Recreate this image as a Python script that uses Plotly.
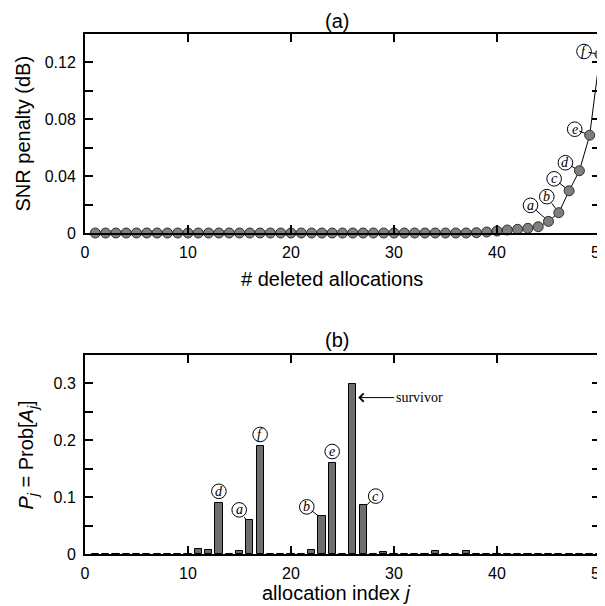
import plotly.graph_objects as go

# ---------------- data ----------------
deleted = list(range(1, 51))
penalty = [0.0] * 37 + [0.0002, 0.0007, 0.0014, 0.0021, 0.0026, 0.0033, 0.0044,
                        0.0082, 0.0143, 0.0297, 0.0438, 0.0688, 0.1256]

alloc_index = list(range(1, 51))
prob = [0.0008, 0.0008, 0.0008, 0.0008, 0.0008, 0.0008, 0.0008, 0.0008, 0.0008, 0.0008,   # 1-10
        0.009, 0.007, 0.090, 0.0, 0.006, 0.060, 0.190, 0.0, 0.0008, 0.0,               # 11-20
        0.0, 0.007, 0.067, 0.160, 0.0, 0.299, 0.086, 0.0, 0.003, 0.0008,                # 21-30
        0.0008, 0.0008, 0.0008, 0.006, 0.0008, 0.0008, 0.005, 0.0008, 0.0008, 0.0008,  # 31-40
        0.0008, 0.0008, 0.0008, 0.0008, 0.0008, 0.0008, 0.0008, 0.0008, 0.0008, 0.0008] # 41-50

x_ticks = [0, 10, 20, 30, 40, 50]
y1_ticks = [0, 0.04, 0.08, 0.12]
y1_ticktext = ["0", "0.04", "0.08", "0.12"]
y1_minor = [0.02, 0.06, 0.10]
y2_ticks = [0, 0.1, 0.2, 0.3]
y2_ticktext = ["0", "0.1", "0.2", "0.3"]
y2_minor = [0.05, 0.15, 0.25]

# labels on the top curve: letter -> deletion count
top_labels = [("a", 45), ("b", 46), ("c", 47), ("d", 48), ("e", 49), ("f", 50)]
# labels on the bars: letter -> allocation index
bar_labels = [("d", 13), ("a", 16), ("f", 17), ("b", 23), ("e", 24), ("c", 27)]
survivor_index = 26

# ---------------- figure ----------------
FONT = "Liberation Sans, Arial, sans-serif"
SERIF = "Liberation Serif, Times New Roman, serif"
BAR_W = 0.7

fig = go.Figure()
fig.add_trace(go.Scatter(
    x=deleted, y=penalty, mode="lines+markers",
    line=dict(color="black", width=1),
    marker=dict(size=10, color="#7f7f7f", line=dict(color="#303030", width=1)),
    cliponaxis=False, xaxis="x", yaxis="y", showlegend=False))
fig.add_trace(go.Bar(
    x=alloc_index, y=prob, width=BAR_W,
    marker=dict(color="#6e6e6e", line=dict(color="black", width=1)),
    xaxis="x2", yaxis="y2", showlegend=False))

top_dom = [0.6173, 1.0]
bot_dom = [0.0, 0.3827]

axis_common = dict(showline=True, linewidth=2, linecolor="black", mirror="ticks",
                   ticks="inside", ticklen=8, tickwidth=2, tickcolor="black",
                   showgrid=False, zeroline=False, automargin=False,
                   ticklabeloverflow="allow",
                   tickfont=dict(size=16, family=FONT, color="black"))

# the page body has an 8px margin, so the figure is 597x598 drawn at (8, 8)
fig.update_layout(
    width=597, height=598,
    margin=dict(l=77, r=5, t=26, b=52, autoexpand=False),
    paper_bgcolor="white", plot_bgcolor="white",
    font=dict(family=FONT, color="black"),
    showlegend=False,
    bargap=0,
    xaxis=dict(domain=[0, 1], anchor="y", range=[0, 50], tickvals=x_ticks,
               ticklabelstandoff=4, **axis_common),
    yaxis=dict(domain=top_dom, anchor="x", range=[0, 0.14], tickvals=y1_ticks, ticktext=y1_ticktext,
               ticklabelstandoff=4,
               minor=dict(tickvals=y1_minor, ticks="inside", ticklen=8, tickwidth=2, tickcolor="black"),
               **axis_common),
    xaxis2=dict(domain=[0, 1], anchor="y2", range=[0, 50], tickvals=x_ticks,
                ticklabelstandoff=4, **axis_common),
    yaxis2=dict(domain=bot_dom, anchor="x2", range=[0, 0.35], tickvals=y2_ticks, ticktext=y2_ticktext,
                ticklabelstandoff=4,
                minor=dict(tickvals=y2_minor, ticks="inside", ticklen=8, tickwidth=2, tickcolor="black"),
                **axis_common),
)

shapes = []
annotations = []
R = 7.3


def add_label(xref, yref, x, y, dx, dy, letter, leader=True, standoff=0):
    shapes.append(dict(type="circle", xref=xref, yref=yref, xsizemode="pixel", ysizemode="pixel",
                       xanchor=x, yanchor=y, x0=dx - R, x1=dx + R, y0=-dy - R, y1=-dy + R,
                       line=dict(color="black", width=1), fillcolor="white", layer="above"))
    if leader:
        annotations.append(dict(xref=xref, yref=yref, x=x, y=y, ax=dx, ay=dy,
                                xanchor="center", yanchor="middle",
                                text=f"<i>{letter}</i>", showarrow=True, arrowhead=0,
                                arrowwidth=1, arrowcolor="black", standoff=standoff,
                                font=dict(family=SERIF, size=14, color="black")))
    else:
        annotations.append(dict(xref=xref, yref=yref, x=x, y=y, xshift=dx, yshift=-dy,
                                xanchor="center", yanchor="middle",
                                text=f"<i>{letter}</i>", showarrow=False,
                                font=dict(family=SERIF, size=14, color="black")))


top_offsets = {"a": (-18, -16), "b": (-12, -16), "c": (-15, -12),
               "d": (-14, -8), "e": (-15, -6), "f": (-16, -3)}
for letter, n in top_labels:
    dx, dy = top_offsets[letter]
    add_label("x", "y", n, penalty[n - 1], dx, dy, letter, leader=True, standoff=5)

for letter, j in bar_labels:
    v = prob[j - 1]
    if letter in ("d", "f", "e"):
        add_label("x2", "y2", j, v, 0, -11.5, letter, leader=False)
    elif letter in ("a", "b"):
        off = {"a": (-7, -10), "b": (-11.5, -9)}[letter]
        add_label("x2", "y2", j - BAR_W / 2, v, off[0], off[1], letter, leader=True)
    else:
        add_label("x2", "y2", j + BAR_W / 2, v, 9, -9, letter, leader=True)

# survivor arrow
annotations.append(dict(xref="x2", yref="y2", x=survivor_index + 0.53, y=prob[survivor_index - 1] * 0.92,
                        ax=36, ay=0, xanchor="left", yanchor="middle", text="survivor", showarrow=True,
                        arrowhead=4, arrowsize=1.6, arrowwidth=1, arrowcolor="black",
                        font=dict(family=SERIF, size=14, color="black")))

title_font = dict(size=20, family=FONT, color="black")
# panel titles
annotations.append(dict(xref="paper", yref="paper", x=0.49, y=top_dom[1], yshift=13,
                        xanchor="center", yanchor="middle",
                        text="(a)", showarrow=False, font=title_font))
annotations.append(dict(xref="paper", yref="paper", x=0.49, y=bot_dom[1], yshift=15,
                        xanchor="center", yanchor="middle",
                        text="(b)", showarrow=False, font=title_font))
# axis titles
annotations.append(dict(xref="paper", yref="paper", x=0.4796, y=top_dom[0], yshift=-46,
                        xanchor="center", yanchor="middle",
                        text="# deleted allocations", showarrow=False, font=title_font))
annotations.append(dict(xref="paper", yref="paper", x=0.487, y=bot_dom[0], yshift=-39,
                        xanchor="center", yanchor="middle",
                        text="allocation index <i>j</i>", showarrow=False, font=title_font))
annotations.append(dict(xref="paper", yref="paper", x=-0.1223, y=(top_dom[0] + top_dom[1]) / 2,
                        xanchor="center", yanchor="middle",
                        text="SNR penalty (dB)", textangle=-90, showarrow=False, font=title_font))
annotations.append(dict(xref="paper", yref="paper", x=-0.1107, y=(bot_dom[0] + bot_dom[1]) / 2,
                        xanchor="center", yanchor="middle",
                        text="<i>P</i><sub><i>j</i></sub> = Prob[<i>A</i><sub><i>j</i></sub>]",
                        textangle=-90, showarrow=False, font=title_font))

fig.update_layout(shapes=shapes, annotations=annotations)
fig.write_html("out.html")
